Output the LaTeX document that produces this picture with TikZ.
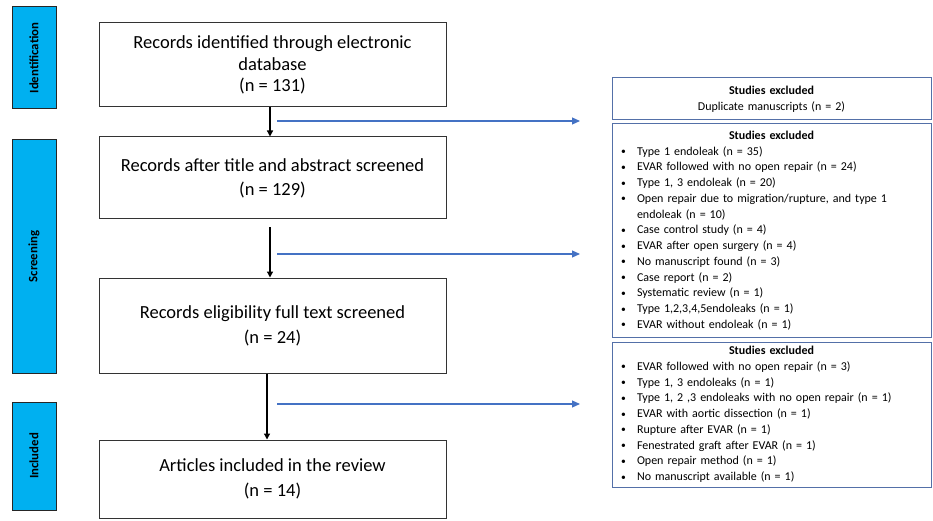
\documentclass[tikz,border=0pt]{standalone}
\usepackage{fontspec}
\setmainfont{Carlito}
\usetikzlibrary{arrows.meta}
\definecolor{barblue}{RGB}{0,176,240}
\definecolor{arrblue}{RGB}{68,114,196}
\definecolor{exborder}{RGB}{84,112,168}
\newcommand\nohyph{\hyphenpenalty=10000 \exhyphenpenalty=10000 \relax}
\newcommand\exitem[1]{\par\hangindent=16pt\hangafter=1\noindent\makebox[16pt][l]{\raisebox{0.5pt}{\scalebox{0.8}{\textbullet}}}#1}
\newcommand\exhead{{\centering\bfseries Studies excluded\par}}
\tikzset{
  stagebar/.style={draw=black!85, line width=1pt, fill=barblue, minimum width=44pt,
    inner sep=0pt, font=\fontsize{12.8}{14}\selectfont\bfseries},
  mainbox/.style={draw=black!80, line width=1pt, fill=white, minimum width=347pt,
    inner sep=0pt, align=center, font=\fontsize{18.5}{21.5}\selectfont},
  exbox/.style={draw=exborder, line width=1pt, minimum width=319pt, text width=301pt,
    inner xsep=9pt, inner ysep=0pt, align=left,
    font=\fontsize{12}{15.75}\selectfont\nohyph},
  blkarrow/.style={draw=black, line width=1.3pt, -{Triangle[length=6pt,width=6pt]}},
  bluearrow/.style={draw=arrblue, line width=1.1pt, -{Triangle[length=8pt,width=7pt]}}
}
\begin{document}
\begin{tikzpicture}[x=1pt,y=1pt]
\useasboundingbox (0,0) rectangle (933,520);
% stage bars
\node[stagebar, minimum height=102pt] (sid) at (34,462) {\rotatebox{90}{Identification}};
\node[stagebar, minimum height=233pt] (sscr) at (34,263.5) {\rotatebox{90}{Screening}};
\node[stagebar, minimum height=108pt] (sinc) at (34,64) {\rotatebox{90}{Included}};
% main boxes
\node[mainbox, minimum height=84pt] (b1) at (272.5,455)
  {Records identified through electronic\\ database\\ (n = 131)};
\node[mainbox, minimum height=82pt, font=\fontsize{18.5}{24}\selectfont] (b2) at (272.5,342)
  {Records after title  and abstract screened\\ (n = 129)};
\node[mainbox, minimum height=95pt, font=\fontsize{18.5}{25}\selectfont] (b3) at (272.5,194.5)
  {Records eligibility  full text screened\\ (n = 24)};
\node[mainbox, minimum height=78pt, font=\fontsize{18.5}{25}\selectfont] (b4) at (272.5,41)
  {Articles included in the review\\ (n = 14)};
% exclusion boxes
\node[exbox, minimum height=42pt] (ea) at (771.5,421)
  {\centering{\bfseries Studies excluded}\\ Duplicate manuscripts (n = 2)\par};
\node[exbox, minimum height=213pt] (eb) at (771.5,289.5)
  {\exhead
   \exitem{Type 1 endoleak (n = 35)}
   \exitem{EVAR  followed with no open repair (n = 24)}
   \exitem{Type 1, 3 endoleak (n = 20)}
   \exitem{Open repair due to migration/rupture, and type 1 endoleak (n = 10)}
   \exitem{Case control study (n = 4)}
   \exitem{EVAR  after open surgery (n = 4)}
   \exitem{No manuscript found (n = 3)}
   \exitem{Case report  (n = 2)}
   \exitem{Systematic review (n = 1)}
   \exitem{Type 1,2,3,4,5endoleaks (n = 1)}
   \exitem{EVAR  without endoleak (n = 1)}\par};
\node[exbox, minimum height=145pt] (ec) at (771.5,105.5)
  {\exhead
   \exitem{EVAR  followed with no open repair (n = 3)}
   \exitem{Type 1, 3 endoleaks (n = 1)}
   \exitem{Type 1, 2 ,3 endoleaks with no open repair (n = 1)}
   \exitem{EVAR  with aortic dissection (n = 1)}
   \exitem{Rupture after EVAR  (n = 1)}
   \exitem{Fenestrated graft after EVAR  (n = 1)}
   \exitem{Open repair method  (n = 1)}
   \exitem{No manuscript available (n = 1)}\par};
% connector coordinates
\coordinate (xa) at (270,0);
\coordinate (xc) at (267,0);
\coordinate (s2) at (270,293);
\coordinate (h1s) at (277,399);
\coordinate (h1e) at (580,399);
\coordinate (h2s) at (277,266);
\coordinate (h2e) at (580,266);
\coordinate (h3s) at (277,116);
\coordinate (h3e) at (580,116);
% black arrows
\draw[blkarrow] (b1.south -| xa) -- (b2.north -| xa);
\draw[blkarrow] (s2) -- (b3.north -| s2);
\draw[blkarrow] (b3.south -| xc) -- (b4.north -| xc);
% blue arrows
\draw[bluearrow] (h1s) -- (h1e);
\draw[bluearrow] (h2s) -- (h2e);
\draw[bluearrow] (h3s) -- (h3e);
\end{tikzpicture}
\end{document}
